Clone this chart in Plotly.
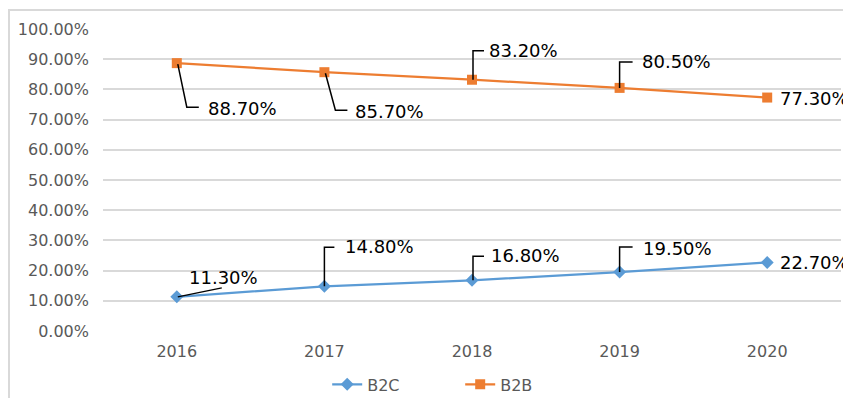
import plotly.graph_objects as go

years = ["2016", "2017", "2018", "2019", "2020"]
b2c = [0.113, 0.148, 0.168, 0.195, 0.227]
b2b = [0.887, 0.857, 0.832, 0.805, 0.773]
y_ticks = [0, 0.1, 0.2, 0.3, 0.4, 0.5, 0.6, 0.7, 0.8, 0.9, 1.0]

xpos = list(range(len(years)))

BLUE = "#5B9BD5"
ORANGE = "#ED7D31"
FONT = "DejaVu Sans"

# label layout: (text xshift, text yshift, leader path in pixels relative to point, y up)
b2b_label_layout = [
    (29, -45, "M 1,-1 L 10,-44 L 22,-44"),
    (29, -39, "M 1,-1 L 11,-38 L 23,-38"),
    (15, 29, "M 1,0 L 1,29 L 12,29"),
    (20, 26, "M 0,0 L 0,26 L 13,26"),
    (11, -1, None),
]
b2c_label_layout = [
    (10, 19, "M 1,0 L 45,9"),
    (19, 40, "M 0,0 L 0,39 L 10,39"),
    (17, 25, "M 1,0 L 1,24 L 12,24"),
    (21, 24, "M 0,0 L 0,25 L 13,25"),
    (11, 0, None),
]

fig = go.Figure()
fig.add_trace(go.Scatter(
    x=xpos, y=b2c, name="B2C", mode="lines+markers",
    line=dict(color=BLUE, width=2.25),
    marker=dict(symbol="diamond", size=10, color=BLUE),
))
fig.add_trace(go.Scatter(
    x=xpos, y=b2b, name="B2B", mode="lines+markers",
    line=dict(color=ORANGE, width=2.25),
    marker=dict(symbol="square", size=10, color=ORANGE),
))

annotations = []
shapes = []
for vals, layout_list in ((b2b, b2b_label_layout), (b2c, b2c_label_layout)):
    for i, (v, (dx, dy, path)) in enumerate(zip(vals, layout_list)):
        annotations.append(dict(
            x=xpos[i], y=v, xref="x", yref="y",
            text=f"{v*100:.2f}%", showarrow=False,
            xanchor="left", yanchor="middle", xshift=dx, yshift=dy,
            font=dict(family=FONT, size=18, color="#000000"),
        ))
        if path:
            shapes.append(dict(
                type="path", xref="x", yref="y",
                xsizemode="pixel", ysizemode="pixel",
                xanchor=xpos[i], yanchor=v, path=path,
                line=dict(color="#000000", width=1.5),
            ))

# chart border
shapes.append(dict(
    type="rect", xref="paper", yref="paper", layer="below",
    x0=-0.1274, x1=1.03, y0=-0.4, y1=1.063,
    line=dict(color="#D9D9D9", width=2),
))

fig.update_layout(
    width=843, height=390,
    margin=dict(l=95, r=10, t=21, b=67),
    paper_bgcolor="white", plot_bgcolor="white",
    font=dict(family=FONT, size=16, color="#595959"),
    xaxis=dict(
        range=[-0.5, 4.5], tickvals=xpos, ticktext=years,
        showgrid=False, showline=False, zeroline=False,
        ticks="", tickfont=dict(size=16, color="#595959"),
        ticklabelstandoff=9, automargin=False,
    ),
    yaxis=dict(
        range=[0, 1.0], tickvals=y_ticks, tickformat=".2%",
        showgrid=True, gridcolor="#D9D9D9", gridwidth=1.5,
        zeroline=False, showline=False, ticks="",
        tickfont=dict(size=16, color="#595959"),
        ticklabelstandoff=13, automargin=False,
    ),
    showlegend=True,
    legend=dict(
        orientation="h", xref="paper", x=0.484, xanchor="center",
        yref="container", y=0.035, yanchor="middle",
        font=dict(size=16, color="#595959"), entrywidth=88,
    ),
    annotations=annotations,
    shapes=shapes,
)

fig.write_html("out.html")
